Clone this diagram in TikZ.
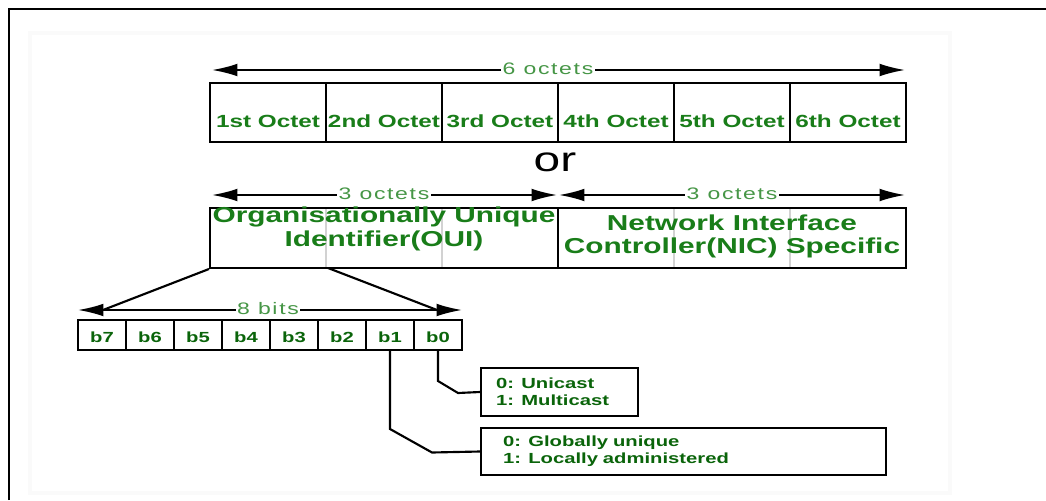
\documentclass[tikz,border=0pt]{standalone}
\usepackage{fontspec}
\setmainfont{Liberation Sans}
\newfontfamily\octfont[FakeStretch=1.38]{Liberation Sans}
\newfontfamily\dimfont[FakeStretch=1.38,LetterSpace=10]{Liberation Sans}
\usetikzlibrary{arrows.meta}
\definecolor{labgreen}{RGB}{25,125,25}
\definecolor{dimgreen}{RGB}{70,150,70}
\definecolor{bitgreen}{RGB}{10,100,10}
\tikzset{
    cell/.style={draw, line width=1.5pt, inner sep=0pt},
    octlab/.style={text=labgreen, font=\octfont\bfseries\fontsize{13.2}{15}\selectfont, inner sep=0pt},
    bitlab/.style={text=bitgreen, font=\octfont\bfseries\fontsize{11}{12}\selectfont, inner sep=0pt},
    partlab/.style={text=labgreen, align=center, font=\octfont\bfseries\fontsize{16.2}{17.5}\selectfont, inner sep=0pt},
    dimlab/.style={text=dimgreen, fill=white, font=\dimfont\fontsize{12.5}{14}\selectfont, inner sep=1pt},
    dim/.style={{Latex[length=19pt,width=9.5pt]}-{Latex[length=19pt,width=9.5pt]}, line width=1.4pt},
    link/.style={line width=1.6pt},
    infobox/.style={draw, line width=1.5pt, anchor=west, align=left, text=bitgreen,
        font=\octfont\bfseries\fontsize{11}{12.75}\selectfont}
}
\begin{document}
\begin{tikzpicture}[x=0.75pt, y=-0.75pt]
    \useasboundingbox (0,0) rectangle (1046,500);
    \draw[black!2, line width=3pt] (30,33) rectangle (950,493);
    \draw[line width=1.5pt] (9,500) -- (9,9) -- (1046,9);

    % six octets
    \foreach \t [count=\i] in {1st,2nd,3rd,4th,5th,6th}
    {
        \node[cell, minimum width=116*0.75pt, minimum height=59*0.75pt] (oct\i) at ({152+116*\i},112.5) {};
        \node[octlab] (ol\i) at ({152+116*\i},121) {\t\ Octet};
    }
    \coordinate (sixl) at (212,70);
    \coordinate (sixr) at (905,70);
    \draw[dim] (sixl) -- (sixr);
    \node[dimlab] (six) at (548,69) {6 octets};

    \node[font=\octfont\fontsize{26}{28}\selectfont, inner sep=0pt] (or) at (555,162) {or};

    % OUI and NIC
    \foreach \x in {326,442,674,790}
        \draw[gray!35, line width=1pt] (\x,208) -- (\x,268);
    \node[cell, minimum width=348*0.75pt, minimum height=60*0.75pt] (oui) at (384,238) {};
    \node[cell, minimum width=348*0.75pt, minimum height=60*0.75pt] (nic) at (732,238) {};
    \node[partlab] (ouitxt) at (384,229) {Organisationally Unique\\Identifier(OUI)};
    \node[partlab] (nictxt) at (732,236.5) {Network Interface\\Controller(NIC) Specific};

    \coordinate (ouil) at (212,195);
    \coordinate (ouir) at (557,195);
    \coordinate (nicl) at (559,195);
    \coordinate (nicr) at (905,195);
    \draw[dim] (ouil) -- (ouir);
    \draw[dim] (nicl) -- (nicr);
    \node[dimlab] (three1) at (384,194) {3 octets};
    \node[dimlab] (three2) at (732,194) {3 octets};

    % eight bits
    \foreach \b [count=\i] in {7,6,5,4,3,2,1,0}
    {
        \node[cell, minimum width=48*0.75pt, minimum height=30*0.75pt] (bit\i) at ({54+48*\i},335) {};
        \node[bitlab] (bl\i) at ({54+48*\i},337) {b\b};
    }
    \coordinate (bitsl) at (78,310);
    \coordinate (bitsr) at (462,310);
    \coordinate (ouimid) at (328,268);
    \coordinate (fanl) at (103,310);
    \coordinate (fanr) at (437,310);
    \draw[link] (oui.south west) -- (fanl);
    \draw[link] (ouimid) -- (fanr);
    \draw[dim] (bitsl) -- (bitsr);
    \node[dimlab] (eight) at (268,309) {8 bits};

    % meaning of b0 and b1
    \node[infobox, minimum width=157*0.75pt, minimum height=48*0.75pt, inner xsep=15*0.75pt,
        text width=127*0.75pt] (uni) at (480,392) {0: Unicast\\1: Multicast};
    \node[infobox, minimum width=405*0.75pt, minimum height=47*0.75pt, inner xsep=22*0.75pt,
        text width=361*0.75pt] (adm) at (480,451.5) {0: Globally unique\\1: Locally administered};

    \draw[link] (bit8.south) -- ++(0,30) -- ++(20,12) -- (uni.west);
    \draw[link] (bit7.south) -- ++(0,78) -- ++(42,23.5) -- (adm.west);
\end{tikzpicture}
\end{document}
